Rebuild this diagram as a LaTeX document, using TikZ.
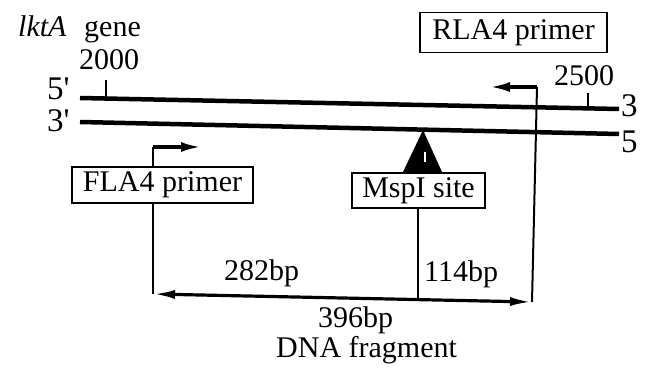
\documentclass[tikz,border=0pt]{standalone}
\usepackage{fontspec}
\setmainfont{Liberation Serif}
\usetikzlibrary{arrows.meta}
\begin{document}
\begin{tikzpicture}[x=1pt,y=-1pt,
  lbl/.style={font=\fontsize{30}{32}\selectfont, inner sep=0pt},
  endlbl/.style={font=\fontsize{33}{35}\selectfont, inner sep=0pt},
  pbox/.style={draw, line width=1.8pt, fill=white, font=\fontsize{30}{32}\selectfont, inner sep=0pt},
  strand/.style={line width=4.5pt},
  thinln/.style={line width=2pt},
  harrow/.style={line width=3.2pt, -{Latex[length=20pt,width=10pt]}},
  farrow/.style={line width=3.2pt, {Latex[length=22pt,width=9pt]}-{Latex[length=22pt,width=9pt]}}
]
\useasboundingbox (0,0) rectangle (647,371);

% texts at top
\node[lbl, anchor=base west] (lkta) at (18,37) {\textit{lktA}};
\node[lbl, anchor=base west] (gene) at (84,37) {gene};
\node[lbl, anchor=base west] (n2000) at (79,70) {2000};
\node[lbl, anchor=base west] (n2500) at (554,86) {2500};

% strand end labels
\node[endlbl, anchor=base west] (l5) at (47,100) {5\textquotesingle};
\node[endlbl, anchor=base west] (l3) at (47,132) {3\textquotesingle};
\node[endlbl, anchor=base west] (r3) at (621,117) {3};
\node[endlbl, anchor=base west] (r5) at (621,153) {5};

% strands
\coordinate (t1) at (80,98);  \coordinate (t2) at (619,109);
\coordinate (b1) at (80,122); \coordinate (b2) at (619,134);
\draw[strand] (t1) -- (t2);
\draw[strand] (b1) -- (b2);

% ticks
\coordinate (k1a) at (106,80);  \coordinate (k1b) at (106,99);
\coordinate (k2a) at (588,93);  \coordinate (k2b) at (588,108);
\draw[thinln] (k1a) -- (k1b);
\draw[thinln] (k2a) -- (k2b);

% boxes
\node[pbox, minimum width=187pt, minimum height=40pt] (rla) at (513.5,32.5) {RLA4 primer};
\node[pbox, minimum width=181pt, minimum height=36pt] (fla) at (162.5,185) {FLA4 primer};
\node[pbox, minimum width=133pt, minimum height=35pt] (msp) at (418.5,190.5) {MspI site};

% MspI triangle
\coordinate (tria) at (423,130);
\coordinate (tril) at (403,172);
\coordinate (trir) at (442,172);
\fill (tria) -- (tril) -- (trir) -- cycle;
\coordinate (wm1) at (425,152); \coordinate (wm2) at (425,162);
\draw[white, line width=1.5pt] (wm1) -- (wm2);

% reverse primer hook and right vertical
\coordinate (rtop) at (537,87);
\coordinate (rtip) at (490,87);
\coordinate (rbot) at (532,302);
\draw[harrow] (rtop) -- (rtip);
\draw[thinln] (rtop) -- (rbot);

% forward primer hook and left vertical
\coordinate (ftop) at (153,147);
\coordinate (ftip) at (201,147);
\coordinate (fbot) at (153,294);
\draw[harrow] (ftop) -- (ftip);
\draw[thinln] (ftop) -- (fla.north -| ftop);
\draw[thinln] (fla.south -| ftop) -- (fbot);

% MspI vertical
\coordinate (mbot) at (418,298);
\draw[thinln] (msp.south -| mbot) -- (mbot);

% fragment arrow
\draw[farrow] (fbot) -- (rbot);

% fragment labels
\node[lbl, anchor=base west] (s282) at (224,280) {282bp};
\node[lbl, anchor=base west] (s114) at (424,281) {114bp};
\node[lbl, anchor=base west] (s396) at (318,327) {396bp};
\node[lbl, anchor=base west] (dna) at (276,357) {DNA fragment};
\end{tikzpicture}
\end{document}
